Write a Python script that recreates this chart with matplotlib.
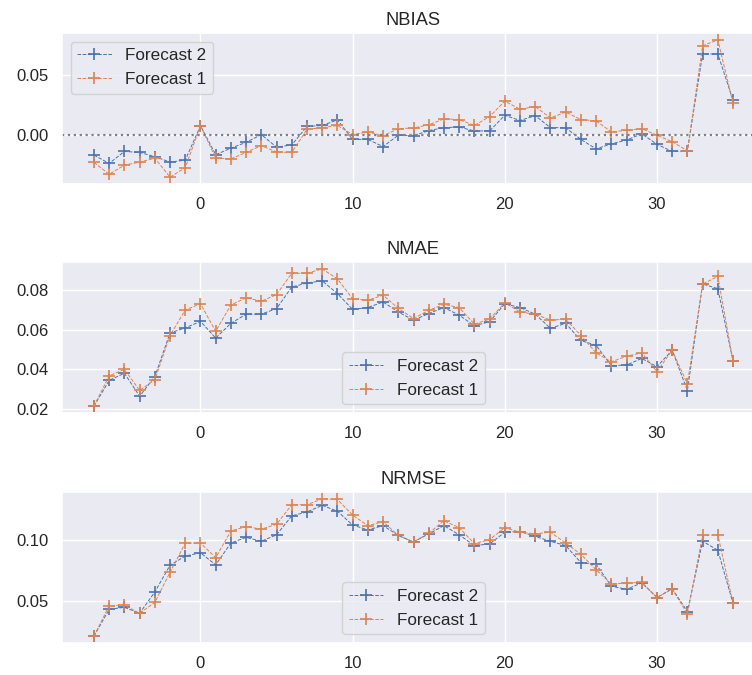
import matplotlib
matplotlib.use("Agg")
import matplotlib.pyplot as plt
import matplotlib.ticker as mticker
import seaborn as sns

sns.set_theme(style="darkgrid")
plt.rcParams['font.family'] = ['Liberation Sans', 'DejaVu Sans']

lags = list(range(-7, 36))

nbias_f2 = [-0.0164, -0.0233, -0.0134, -0.0142, -0.0177, -0.0222, -0.0206, 0.0078,
            -0.0161, -0.0107, -0.0059, 0.0005, -0.0099, -0.0080, 0.0072, 0.0080,
            0.0126, -0.0035, -0.0035, -0.0094, 0.0000, -0.0005, 0.0038, 0.0062,
            0.0067, 0.0035, 0.0035, 0.0164, 0.0121, 0.0161, 0.0062, 0.0062,
            -0.0035, -0.0113, -0.0072, -0.0040, 0.0011, -0.0075, -0.0134, -0.0129,
            0.0670, 0.0670, 0.0287]
nbias_f1 = [-0.0225, -0.0322, -0.0247, -0.0222, -0.0190, -0.0346, -0.0268, 0.0078,
            -0.0188, -0.0196, -0.0142, -0.0086, -0.0139, -0.0142, 0.0048, 0.0062,
            0.0080, 0.0005, 0.0027, -0.0005, 0.0054, 0.0059, 0.0086, 0.0134,
            0.0129, 0.0080, 0.0153, 0.0281, 0.0214, 0.0236, 0.0142, 0.0190,
            0.0129, 0.0118, 0.0027, 0.0040, 0.0054, 0.0000, -0.0054, -0.0129,
            0.0737, 0.0786, 0.0263]

nmae_f2 = [0.0216, 0.0345, 0.0381, 0.0266, 0.0364, 0.0583, 0.0608, 0.0641,
           0.0557, 0.0631, 0.0677, 0.0677, 0.0705, 0.0813, 0.0833, 0.0844,
           0.0780, 0.0701, 0.0710, 0.0738, 0.0688, 0.0647, 0.0680, 0.0710,
           0.0672, 0.0619, 0.0639, 0.0729, 0.0710, 0.0677, 0.0606, 0.0631,
           0.0545, 0.0521, 0.0419, 0.0422, 0.0455, 0.0414, 0.0496, 0.0294,
           0.0828, 0.0805, 0.0442]
nmae_f1 = [0.0216, 0.0368, 0.0400, 0.0295, 0.0348, 0.0570, 0.0698, 0.0729,
           0.0591, 0.0723, 0.0759, 0.0742, 0.0775, 0.0882, 0.0882, 0.0904,
           0.0854, 0.0754, 0.0747, 0.0772, 0.0706, 0.0655, 0.0696, 0.0726,
           0.0710, 0.0627, 0.0652, 0.0734, 0.0688, 0.0677, 0.0647, 0.0652,
           0.0570, 0.0483, 0.0438, 0.0466, 0.0483, 0.0389, 0.0496, 0.0328,
           0.0828, 0.0866, 0.0442]

nrmse_f2 = [0.0211, 0.0430, 0.0447, 0.0398, 0.0572, 0.0791, 0.0866, 0.0893,
            0.0794, 0.0973, 0.1019, 0.0987, 0.1040, 0.1195, 0.1227, 0.1281,
            0.1233, 0.1120, 0.1080, 0.1115, 0.1035, 0.0981, 0.1048, 0.1115,
            0.1040, 0.0952, 0.0965, 0.1061, 0.1067, 0.1027, 0.0987, 0.0952,
            0.0813, 0.0799, 0.0620, 0.0594, 0.0647, 0.0527, 0.0599, 0.0412,
            0.0987, 0.0914, 0.0479]
nrmse_f1 = [0.0211, 0.0460, 0.0465, 0.0398, 0.0487, 0.0733, 0.0971, 0.0973,
            0.0853, 0.1072, 0.1107, 0.1086, 0.1126, 0.1286, 0.1286, 0.1334,
            0.1329, 0.1201, 0.1115, 0.1147, 0.1035, 0.0981, 0.1053, 0.1155,
            0.1099, 0.0968, 0.1000, 0.1099, 0.1061, 0.1048, 0.1061, 0.0973,
            0.0880, 0.0754, 0.0639, 0.0644, 0.0652, 0.0527, 0.0596, 0.0393,
            0.1035, 0.1040, 0.0479]

titles = ["NBIAS", "NMAE", "NRMSE"]
series = [(nbias_f2, nbias_f1), (nmae_f2, nmae_f1), (nrmse_f2, nrmse_f1)]
legend_locs = ["upper left", "lower center", "lower center"]
yticks = [[0.0, 0.05], [0.02, 0.04, 0.06, 0.08], [0.05, 0.10]]
xticks = [0, 10, 20, 30]

W, H = 752, 675
fig = plt.figure(figsize=(W / 100, H / 100), dpi=100)
tops = [33, 262, 492]
height_px = 151
left_px, width_px = 62, 703

blue = "#4c72b0"
orange = "#dd8452"

for i, (title, (f2, f1)) in enumerate(zip(titles, series)):
    ax = fig.add_axes([left_px / W, (H - tops[i] - height_px) / H, width_px / W, height_px / H])
    ax.plot(lags, f2, linestyle="--", marker="+", color=blue, lw=0.7, ms=8, mew=1.2, label="Forecast 2")
    ax.plot(lags, f1, linestyle="--", marker="+", color=orange, lw=0.7, ms=8, mew=1.2, label="Forecast 1")
    if i == 0:
        ax.axhline(0, color="grey", linestyle=":", lw=1.6)
    ax.set_title(title, fontsize=13.2)
    ax.set_xticks(xticks)
    ax.set_yticks(yticks[i])
    ax.yaxis.set_major_formatter(mticker.FormatStrFormatter('%.2f'))
    ax.tick_params(labelsize=12)
    ax.legend(loc=legend_locs[i], fontsize=12.3)

fig.savefig("out.png", dpi=100)
